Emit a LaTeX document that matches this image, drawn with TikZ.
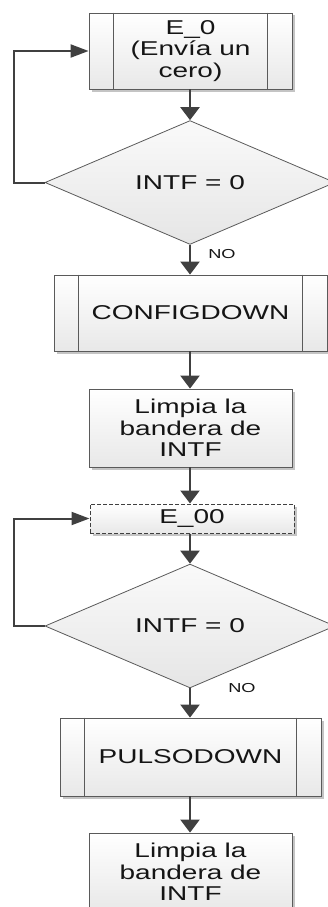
\documentclass[tikz,border=0pt]{standalone}
\usepackage{fontspec}
\newfontfamily\diagfont[FakeStretch=1.4]{Liberation Sans}
\usetikzlibrary{shapes.geometric,shadows,arrows.meta}
\definecolor{edge}{HTML}{5A5A5A}
\definecolor{conn}{HTML}{404040}
\definecolor{ink}{HTML}{151515}
\definecolor{shade}{HTML}{C4C4C4}
\tikzset{
  boxbase/.style={rectangle, draw=edge, line width=0.8pt, inner sep=0pt,
    top color=white, bottom color=black!9, text=ink, align=center,
    font=\diagfont\fontsize{20}{21.5}\selectfont,
    drop shadow={shadow xshift=2.5pt, shadow yshift=-2.5pt, fill=shade, opacity=1}},
  procbox/.style={boxbase},
  dashbox/.style={boxbase, draw=conn, line width=1pt, dash pattern=on 4pt off 2pt},
  decision/.style={diamond, draw=edge, line width=0.8pt, inner sep=0pt,
    minimum width=290pt, minimum height=109pt,
    top color=black!2, bottom color=black!10, text=ink,
    font=\diagfont\fontsize{20}{21.5}\selectfont},
  vflow/.style={draw=conn, line width=2.2pt, -{Triangle[length=13pt,width=19pt]}},
  hflow/.style={draw=conn, line width=2pt, -{Triangle[length=18pt,width=13pt]}},
  sideline/.style={draw=edge, line width=0.8pt},
  nolabel/.style={text=ink, font=\diagfont\fontsize{13}{14}\selectfont, inner sep=0pt}
}
\begin{document}
\begin{tikzpicture}[x=1pt,y=-1pt]
\useasboundingbox (0,0) rectangle (328,907);
\clip (0,0) rectangle (328,907);

% first waiting loop
\node[procbox, minimum width=203pt, minimum height=76pt] (e0) at (190.5,51) {E\_0\\(Envía un\\cero)};
\draw[sideline] ([xshift=25pt]e0.north west) -- ([xshift=25pt]e0.south west);
\draw[sideline] ([xshift=-25pt]e0.north east) -- ([xshift=-25pt]e0.south east);

\node[decision] (d1) at (190,182.5) {INTF = 0};

\node[procbox, minimum width=273pt, minimum height=76pt] (cfg) at (190.5,313) {CONFIGDOWN};
\draw[sideline] ([xshift=25pt]cfg.north west) -- ([xshift=25pt]cfg.south west);
\draw[sideline] ([xshift=-25pt]cfg.north east) -- ([xshift=-25pt]cfg.south east);

\node[procbox, minimum width=203pt, minimum height=78pt] (lim1) at (190.5,428) {Limpia la\\bandera de\\INTF};

% second waiting loop
\node[dashbox, minimum width=204pt, minimum height=29pt] (e00) at (192,518.5) {E\_00};

\node[decision] (d2) at (190,626) {INTF = 0};

\node[procbox, minimum width=261pt, minimum height=78pt] (pul) at (190.5,757) {PULSODOWN};
\draw[sideline] ([xshift=25pt]pul.north west) -- ([xshift=25pt]pul.south west);
\draw[sideline] ([xshift=-25pt]pul.north east) -- ([xshift=-25pt]pul.south east);

\node[procbox, minimum width=203pt, minimum height=78pt] (lim2) at (190.5,872) {Limpia la\\bandera de\\INTF};

% labels
\node[nolabel] (no1) at (222,254) {NO};
\node[nolabel] (no2) at (242,688) {NO};

% loop corners
\coordinate (l1) at (14,51);
\coordinate (l2) at (14,518.5);

% connectors
\draw[vflow] (e0.south -| d1.north) -- (d1.north);
\draw[vflow] (d1.south) -- (d1.south |- cfg.north);
\draw[vflow] (cfg.south -| d1.south) -- (d1.south |- lim1.north);
\draw[vflow] (lim1.south -| d1.south) -- (d1.south |- e00.north);
\draw[vflow] (e00.south -| d2.north) -- (d2.north);
\draw[vflow] (d2.south) -- (d2.south |- pul.north);
\draw[vflow] (pul.south -| d2.south) -- (d2.south |- lim2.north);

\draw[hflow] (d1.west) -| (l1) -- (e0.west);
\draw[hflow] (d2.west) -| (l2) -- (e00.west);
\end{tikzpicture}
\end{document}
